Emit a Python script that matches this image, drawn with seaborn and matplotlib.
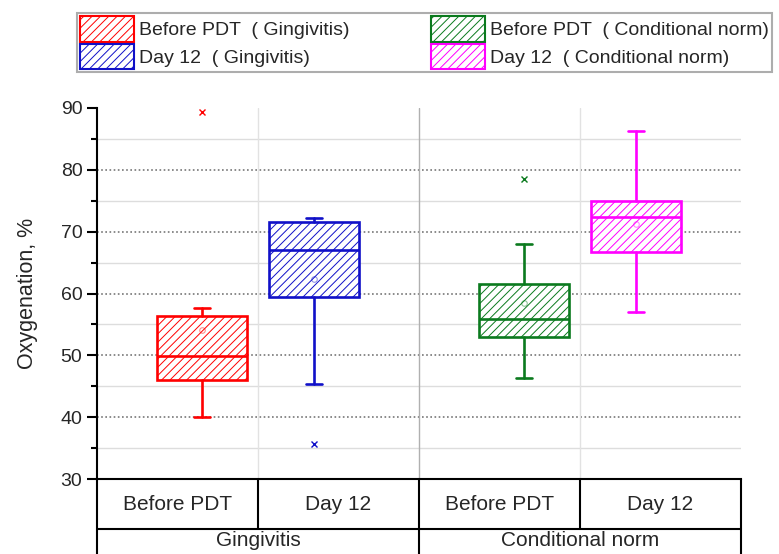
import matplotlib
matplotlib.use("Agg")
import matplotlib.pyplot as plt
from matplotlib.patches import Patch
from matplotlib.ticker import MultipleLocator
import seaborn as sns

# ---- data ----
groups = ["Gingivitis", "Conditional norm"]
stages = ["Before PDT", "Day 12"]
series_labels = ["Before PDT  ( Gingivitis)", "Day 12  ( Gingivitis)",
                 "Before PDT  ( Conditional norm)", "Day 12  ( Conditional norm)"]
q1 = [46.0, 59.5, 52.9, 66.7]
med = [49.9, 67.0, 55.8, 72.3]
q3 = [56.4, 71.6, 61.5, 75.0]
whislo = [40.0, 45.3, 46.4, 57.0]
whishi = [57.7, 72.2, 68.0, 86.3]
means = [54.1, 62.4, 58.4, 71.2]
fliers = [[89.3], [35.6], [78.5], []]
colors = ["#FF0000", "#1010C8", "#0B7A1E", "#FF00FF"]
yticks_major = [30, 40, 50, 60, 70, 80, 90]

sns.set_style("white")
plt.rcParams["font.family"] = ["Liberation Sans", "DejaVu Sans"]
plt.rcParams["hatch.linewidth"] = 0.7

fig = plt.figure(figsize=(7.79, 5.54), dpi=100)
L, R, T, B = 97, 741, 108, 479
ax = fig.add_axes([L / 779, 1 - B / 554, (R - L) / 779, (B - T) / 554])

offset = 0.175
positions = []
for gi in range(len(groups)):
    for si in range(len(stages)):
        positions.append(gi + 1 + (offset if si else -offset))

lw = 1.9
for i in range(4):
    c = colors[i]
    stats = [dict(q1=q1[i], med=med[i], q3=q3[i], whislo=whislo[i], whishi=whishi[i],
                  mean=means[i], fliers=fliers[i])]
    ax.bxp(stats, positions=[positions[i]], widths=0.28, capwidths=0.05,
           patch_artist=True, showmeans=True, manage_ticks=False,
           boxprops=dict(facecolor="white", edgecolor=c, hatch="////", linewidth=lw),
           medianprops=dict(color=c, linewidth=lw),
           whiskerprops=dict(color=c, linewidth=lw),
           capprops=dict(color=c, linewidth=lw),
           meanprops=dict(marker="o", markersize=4, markerfacecolor="none",
                          markeredgecolor=c, alpha=0.45, markeredgewidth=0.8),
           flierprops=dict(marker="x", markersize=4, markeredgecolor=c, markeredgewidth=1.0))

ax.set_xlim(0.5, 2.5)
ax.set_ylim(30, 90)
ax.yaxis.set_major_locator(MultipleLocator(10))
ax.yaxis.set_minor_locator(MultipleLocator(5))
ax.set_xticks([])

# grid lines
for v in range(35, 90, 10):
    ax.axhline(v, color="#dddddd", lw=1.0, zorder=0)
for v in yticks_major[1:-1]:
    ax.axhline(v, color="#777777", lw=1.2, ls=(0, (1, 1.5)), zorder=0)
ax.axvline(1, color="#e2e2e2", lw=1.0, zorder=0)
ax.axvline(2, color="#e2e2e2", lw=1.0, zorder=0)
ax.axvline(1.5, color="#b0b0b0", lw=1.0, zorder=0)

ax.tick_params(axis="y", which="major", direction="out", length=7, width=1.5,
               labelsize=14, pad=3.5, left=True, color="black")
ax.tick_params(axis="y", which="minor", direction="out", length=4, width=1.5, left=True,
               color="black")
for sp in ["top", "right"]:
    ax.spines[sp].set_visible(False)
for sp in ["left", "bottom"]:
    ax.spines[sp].set_color("black")
    ax.spines[sp].set_linewidth(1.5)

ax.set_ylabel("Oxygenation, %", fontsize=15.5)
ax.yaxis.set_label_coords(-(97 - 38.5) / (R - L), 0.5)

# category table below the axis
trans = ax.get_xaxis_transform()
row1 = -(529 - 479) / (B - T)
kw = dict(transform=trans, clip_on=False, color="black", lw=1.5)
ax.plot([0.5, 2.5], [row1, row1], **kw)
for x in [0.5, 1.5, 2.5]:
    ax.plot([x, x], [0, -0.3], **kw)
for x in [1, 2]:
    ax.plot([x, x], [0, row1], **kw)
for gi, g in enumerate(groups):
    for si, s in enumerate(stages):
        ax.text(gi + 1 + (0.25 if si else -0.25), row1 / 2, s, transform=trans,
                ha="center", va="center", fontsize=15)
    ax.text(gi + 1, -(541 - 479) / (B - T), g, transform=trans,
            ha="center", va="center", fontsize=15)

# legend
handles = [Patch(facecolor="white", edgecolor=colors[i], hatch="////", lw=1.5,
                 label=series_labels[i]) for i in range(4)]
leg = fig.legend(handles=handles, loc="upper left", bbox_to_anchor=(77 / 779, 1 - 13 / 554),
                 ncol=2, fontsize=14, frameon=True, fancybox=False, edgecolor="#999999",
                 borderaxespad=0, borderpad=0.15, handlelength=2.78, handleheight=1.65,
                 labelspacing=0.12, handletextpad=0.25, columnspacing=4.2)
leg.get_frame().set_linewidth(1.5)

fig.savefig("out.png", dpi=100)
